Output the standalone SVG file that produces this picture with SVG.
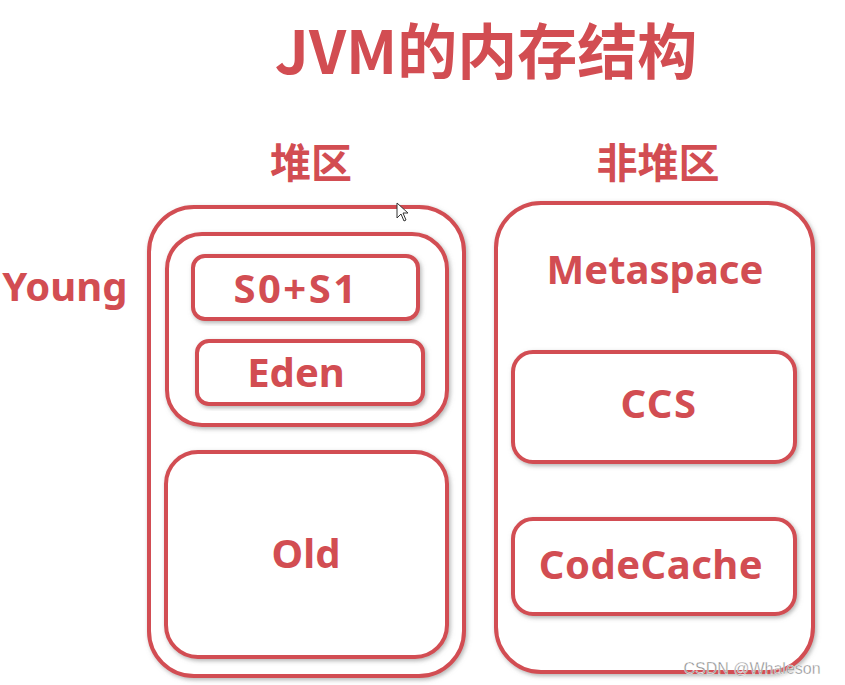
<svg xmlns="http://www.w3.org/2000/svg" width="845" height="685" viewBox="0 0 845 685">
<defs>
<filter id="sh" x="-10%" y="-10%" width="120%" height="120%">
<feDropShadow dx="1.5" dy="2" stdDeviation="2" flood-color="#777" flood-opacity="0.55"/>
</filter>
<style>
.box{fill:#fff;stroke:#d24d52;stroke-width:4;filter:url(#sh)}
.lbl{font-family:"Noto Sans","Open Sans","Noto Sans CJK SC",sans-serif;font-weight:bold;fill:#d24d52;text-anchor:middle;font-size:40px}
.cjk{font-family:"Noto Sans CJK SC","Noto Sans",sans-serif;font-weight:bold;fill:#d24d52;text-anchor:middle}
</style>
</defs>
<rect width="845" height="685" fill="#fff"/>
<text class="cjk" x="486" y="74" font-size="60">JVM的内存结构</text>
<text class="cjk" x="311" y="178" font-size="41">堆区</text>
<text class="cjk" x="658" y="178" font-size="41">非堆区</text>
<text class="lbl" x="65" y="301">Young</text>
<g id="heap"><rect class="box" x="149" y="207" width="315" height="469" rx="45"/></g>
<g id="young"><rect class="box" x="167" y="234" width="280" height="191" rx="35"/></g>
<g id="s0s1"><rect class="box" x="193" y="256" width="225" height="63" rx="12"/><text class="lbl" x="296" y="303" letter-spacing="2.5">S0+S1</text></g>
<g id="eden"><rect class="box" x="197" y="341" width="226" height="63" rx="12"/><text class="lbl" x="296" y="387">Eden</text></g>
<g id="old"><rect class="box" x="166" y="452" width="281" height="205" rx="32"/><text class="lbl" x="306" y="568">Old</text></g>
<g id="nonheap"><rect class="box" x="496" y="203" width="317" height="469" rx="45"/><text class="lbl" x="655" y="284">Metaspace</text></g>
<g id="ccs"><rect class="box" x="513" y="352" width="282" height="110" rx="20"/><text class="lbl" x="659" y="418" letter-spacing="1.5">CCS</text></g>
<g id="codecache"><rect class="box" x="513" y="519" width="282" height="95" rx="20"/><text class="lbl" x="651" y="579" letter-spacing="0.5">CodeCache</text></g>
<g id="connectors"></g>
<polygon points="397,203 397,218 401,214 404,221 406,220 403,213 408,213" fill="#fff" stroke="#333" stroke-width="1"/>
<text x="752" y="674" font-family="Liberation Sans,Arial,sans-serif" font-size="16" fill="#888" stroke="#fff" stroke-width="0.4" text-anchor="middle">CSDN @Whaleson</text>
</svg>
